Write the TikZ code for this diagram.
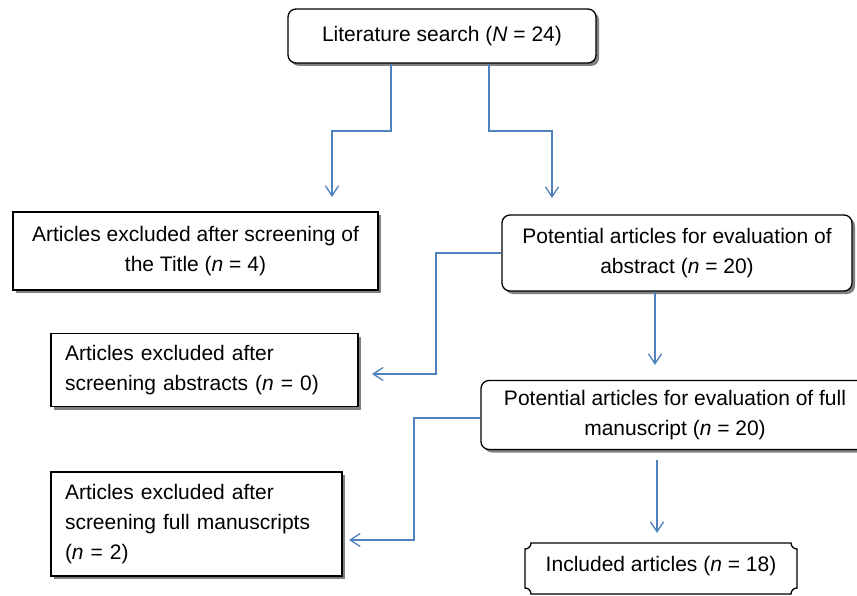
\documentclass[tikz,border=0pt]{standalone}
\usepackage{fontspec}
\setmainfont{Liberation Sans}
\usetikzlibrary{arrows.meta,shadows}
\definecolor{linkblue}{RGB}{79,129,189}
\definecolor{shadowgray}{RGB}{128,128,128}
\tikzset{
  boxbase/.style={draw=black, line width=1.3pt, fill=white, inner sep=0pt,
    font=\fontsize{21}{30}\selectfont,
    drop shadow={shadow xshift=3pt, shadow yshift=-3pt, fill=shadowgray, opacity=1}},
  rbox/.style={boxbase, rounded corners=8pt, align=center},
  sbox/.style={boxbase, align=center},
  lbox/.style={boxbase, align=left},
  arr/.style={draw=linkblue, line width=1.3pt, -{Straight Barb[length=10pt,width=13pt]}}
}
\begin{document}
\begin{tikzpicture}[x=1pt,y=-1pt]
\useasboundingbox (0,0) rectangle (857,596);
\fill[white] (0,0) rectangle (857,596);

% nodes
\node[rbox, minimum width=308pt, minimum height=54pt] (top) at (442,36)
  {Literature search (\textit{N} = 24)};
\node[sbox, minimum width=365pt, minimum height=78pt] (title) at (195.5,251)
  {Articles excluded after screening of\\the Title (\textit{n} = 4)};
\node[rbox, minimum width=350pt, minimum height=76pt] (abs) at (677,253)
  {Potential articles for evaluation of\\abstract (\textit{n} = 20)};
\node[lbox, minimum width=307pt, minimum height=73pt, text width=279pt] (absx) at (204.5,370)
  {Articles excluded after\\screening abstracts (\textit{n} = 0)};
\node[rbox, minimum width=388pt, minimum height=69pt] (full) at (675,415)
  {Potential articles for evaluation of full\\manuscript (\textit{n} = 20)};
\node[lbox, minimum width=291pt, minimum height=104pt, text width=263pt] (fullx) at (196.5,524)
  {Articles excluded after\\screening full manuscripts\\(\textit{n} = 2)};

% included (plaque shape)
\coordinate (incNW) at (525,543);
\coordinate (incNE) at (797,543);
\coordinate (incSE) at (797,594);
\coordinate (incSW) at (525,594);
\def\plaque{%
  ([yshift=-6pt]incNW) .. controls +(3.3,0) and +(0,3.3) .. ([xshift=6pt]incNW)
  -- ([xshift=-6pt]incNE) .. controls +(0,3.3) and +(-3.3,0) .. ([yshift=-6pt]incNE)
  -- ([yshift=6pt]incSE) .. controls +(-3.3,0) and +(0,-3.3) .. ([xshift=-6pt]incSE)
  -- ([xshift=6pt]incSW) .. controls +(0,-3.3) and +(3.3,0) .. ([yshift=6pt]incSW)
  -- cycle}
\fill[shadowgray, xshift=3pt, yshift=-3pt] \plaque;
\filldraw[fill=white, draw=black, line width=1.3pt] \plaque;
\node[font=\fontsize{21}{30}\selectfont, inner sep=0pt] (inc) at (661,566)
  {Included articles (\textit{n} = 18)};

% tip coordinates
\coordinate (t1) at (332,197);
\coordinate (t2) at (552,198);
\coordinate (t3) at (372,374);
\coordinate (t4) at (655,365);
\coordinate (t5) at (349,540);
\coordinate (t6) at (657,533);
\coordinate (s6) at (657,460);

% connectors
\draw[arr] (top.south -| 391,0) |- (t1 |- 0,131) -- (t1);
\draw[arr] (top.south -| 489,0) |- (t2 |- 0,131) -- (t2);
\draw[arr] (abs.west) -- (436,253) |- (t3);
\draw[arr] (abs.south -| t4) -- (t4);
\draw[arr] (full.west |- 0,418) -- (414,418) |- (t5);
\draw[arr] (s6) -- (t6);
\end{tikzpicture}
\end{document}
